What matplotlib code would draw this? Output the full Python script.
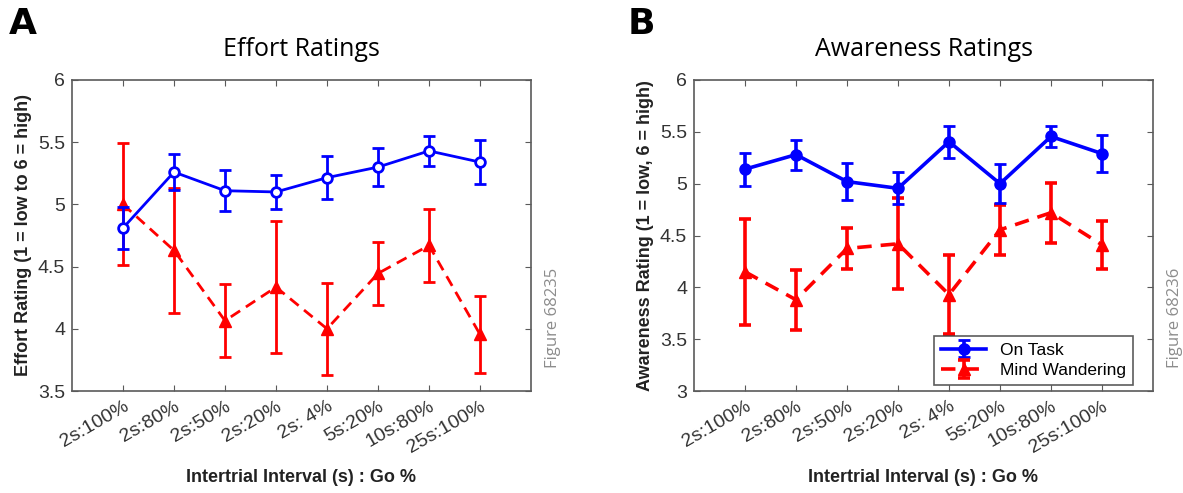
import matplotlib
matplotlib.use("Agg")
import matplotlib.pyplot as plt
import numpy as np

conditions = ["2s:100%", "2s:80%", "2s:50%", "2s:20%", "2s: 4%", "5s:20%", "10s:80%", "25s:100%"]

effort_on = [4.81, 5.26, 5.11, 5.10, 5.215, 5.30, 5.43, 5.34]
effort_on_err = [0.17, 0.145, 0.165, 0.135, 0.175, 0.15, 0.12, 0.175]
effort_mw = [5.00, 4.63, 4.065, 4.335, 4.00, 4.445, 4.67, 3.955]
effort_mw_err = [0.49, 0.50, 0.295, 0.53, 0.37, 0.255, 0.29, 0.31]

aware_on = [5.14, 5.28, 5.02, 4.955, 5.405, 5.00, 5.455, 5.29]
aware_on_err = [0.16, 0.145, 0.175, 0.155, 0.155, 0.19, 0.10, 0.18]
aware_mw = [4.15, 3.88, 4.375, 4.42, 3.93, 4.555, 4.72, 4.41]
aware_mw_err = [0.51, 0.29, 0.20, 0.44, 0.38, 0.24, 0.29, 0.23]

SPINE = "#5a5a5a"
TICKTXT = "#333333"
plt.rcParams["font.family"] = ["Liberation Sans", "DejaVu Sans"]

fig = plt.figure(figsize=(11.83, 4.93), dpi=100)
W, H = 1183, 493


def panel(left, ylim, yticks, on, on_err, mw, mw_err, title, ylabel, letter, letter_x,
          fig_id, hollow, lw, legend):
    ax = fig.add_axes([left / W, 1 - 391 / H, 459 / W, 311 / H])
    x = np.arange(1, len(conditions) + 1)
    mfc = "white" if hollow else "blue"
    ax.errorbar(x, on, yerr=on_err, color="blue", lw=lw, marker="o", ms=7,
                mfc=mfc, mec="blue", mew=2, capsize=4, capthick=lw, elinewidth=lw,
                label="On Task", zorder=3)
    ax.errorbar(x, mw, yerr=mw_err, color="red", lw=lw, ls="--", dashes=(4, 2.5),
                marker="^", ms=9, mfc="red", mec="red", capsize=4, capthick=lw,
                elinewidth=lw, label="Mind Wandering", zorder=2)
    ax.set_xlim(0, 9)
    ax.set_ylim(*ylim)
    ax.set_xticks(x)
    ax.set_xticklabels(conditions, rotation=30, ha="right", rotation_mode="anchor",
                       fontsize=14, color=TICKTXT)
    ax.set_yticks(yticks)
    ax.set_yticklabels([f"{t:g}" for t in yticks], fontsize=14, color=TICKTXT)
    ax.tick_params(direction="in", top=True, right=True, length=4, color=SPINE, pad=5)
    for s in ax.spines.values():
        s.set_color(SPINE)
        s.set_linewidth(1.2)
    ax.set_xlabel("Intertrial Interval (s) : Go %", fontsize=13, fontweight="bold",
                  color="#222222", labelpad=9)
    ax.set_ylabel(ylabel, fontsize=13, fontweight="bold", color="#222222", labelpad=4)
    fig.text((left + 229.5) / W, 1 - 50 / H, title, ha="center", va="center",
             fontsize=18, family=["Open Sans", "DejaVu Sans"], color="black")
    fig.text(letter_x / W, 1 - 24 / H, letter, ha="left", va="center", fontsize=26,
             fontweight="heavy", family=["DejaVu Sans"], color="black")
    fig.text((left + 481) / W, 1 - 318 / H, fig_id, rotation=90, ha="center",
             va="center", fontsize=12, color="#8c8c8c",
             family=["Open Sans", "DejaVu Sans"])
    if legend:
        leg = ax.legend(loc="lower right", fontsize=12.5, frameon=True, fancybox=False,
                        edgecolor="#333333", borderpad=0.4, handlelength=2.6,
                        labelspacing=0.3, borderaxespad=0.0,
                        bbox_to_anchor=(1 - 20 / 459, 6 / 311))
        leg.get_frame().set_linewidth(1.2)
    return ax


panel(72, (3.5, 6), [3.5, 4, 4.5, 5, 5.5, 6], effort_on, effort_on_err, effort_mw,
      effort_mw_err, "Effort Ratings", "Effort Rating (1 = low to 6 = high)", "A", 9,
      "Figure 68235", hollow=True, lw=2, legend=False)
panel(694, (3, 6), [3, 3.5, 4, 4.5, 5, 5.5, 6], aware_on, aware_on_err, aware_mw,
      aware_mw_err, "Awareness Ratings", "Awareness Rating (1 = low, 6 = high)", "B", 628,
      "Figure 68236", hollow=False, lw=2.6, legend=True)

fig.savefig("out.png", dpi=100)
